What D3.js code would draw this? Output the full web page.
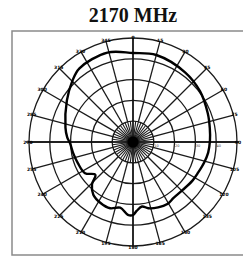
<!DOCTYPE html>
<html>
<head>
<meta charset="utf-8">
<script src="https://cdn.jsdelivr.net/npm/d3@7"></script>
<style>
  html, body { margin: 0; padding: 0; background: #fff; }
  svg { display: block; }
</style>
</head>
<body>
<div id="chart"></div>
<script>
// Radiation pattern, 2170 MHz
const title = "2170 MHz";

// pattern samples: angle in degrees (clockwise from top) and level (outer ring = 50)
const angles = [0, 15, 37, 53, 69, 80, 89, 98, 106, 115, 123, 134, 144, 151, 159, 167, 172, 177,
                180, 184, 191, 199, 208, 217, 224, 229, 237, 249, 260, 269, 274, 282, 302, 315, 324, 344];
const levels = [42.8, 43.3, 41.8, 40.4, 38.5, 37.5, 37.0, 36.5, 35.6, 34.6, 34.1, 33.2, 33.2, 34.1, 33.7, 32.7, 31.3, 33.2,
                35.1, 35.1, 32.2, 33.7, 33.2, 31.7, 28.4, 24.0, 27.5, 28.4, 29.3, 30.3, 31.7, 33.2, 37.5, 41.3, 43.8, 44.7];

// grid
const ringValues = [10, 20, 30, 40, 50];
const ringLabels = ["-10", "-20", "-30", "-40"];
const angleTicks = d3.range(0, 360, 15);

const W = 243, H = 256;
const cx = 133, cy = 142, R = 104;

const svg = d3.select("#chart").append("svg")
  .attr("width", W)
  .attr("height", H);

// frame
svg.append("rect")
  .attr("x", 12).attr("y", 31)
  .attr("width", 250).attr("height", 224)
  .attr("fill", "none")
  .attr("stroke", "#8a8a8a")
  .attr("stroke-width", 1.5);

// title
svg.append("text")
  .attr("x", cx).attr("y", 22)
  .attr("text-anchor", "middle")
  .attr("font-family", "Liberation Serif, serif")
  .attr("font-weight", "bold")
  .attr("font-size", 20)
  .attr("fill", "#111")
  .text(title);

const r = d3.scaleLinear().domain([0, 50]).range([0, R]);

const g = svg.append("g").attr("transform", `translate(${cx},${cy})`);

// rings
g.selectAll("circle.ring")
  .data(ringValues)
  .join("circle")
  .attr("class", "ring")
  .attr("r", d => r(d))
  .attr("fill", "none")
  .attr("stroke", "#1a1a1a")
  .attr("stroke-width", 1.3);

// dense spokes near the centre
g.selectAll("line.inner")
  .data(d3.range(0, 360, 7.5))
  .join("line")
  .attr("class", "inner")
  .attr("x1", 0).attr("y1", 0)
  .attr("x2", d => r(10) * Math.sin(d * Math.PI / 180))
  .attr("y2", d => -r(10) * Math.cos(d * Math.PI / 180))
  .attr("stroke", "#1a1a1a")
  .attr("stroke-width", 1.1);

// spokes every 15 degrees
g.selectAll("line.spoke")
  .data(angleTicks)
  .join("line")
  .attr("class", "spoke")
  .attr("x1", d => r(10) * Math.sin(d * Math.PI / 180))
  .attr("y1", d => -r(10) * Math.cos(d * Math.PI / 180))
  .attr("x2", d => r(50) * Math.sin(d * Math.PI / 180))
  .attr("y2", d => -r(50) * Math.cos(d * Math.PI / 180))
  .attr("stroke", "#1a1a1a")
  .attr("stroke-width", 1.3);

// main axes
g.append("line")
  .attr("x1", -r(50) - 3).attr("x2", r(50) + 2)
  .attr("y1", 0).attr("y2", 0)
  .attr("stroke", "#111").attr("stroke-width", 1.4);
g.append("line")
  .attr("x1", 0).attr("x2", 0)
  .attr("y1", -r(50)).attr("y2", r(50))
  .attr("stroke", "#111").attr("stroke-width", 1.4);

// centre blob
g.append("circle").attr("r", 5.5).attr("fill", "#000");

// angle labels (tiny, as in the scan)
g.selectAll("text.ang")
  .data(angleTicks)
  .join("text")
  .attr("class", "ang")
  .attr("x", d => (r(50) + 1) * Math.sin(d * Math.PI / 180))
  .attr("y", d => -(r(50) + 1) * Math.cos(d * Math.PI / 180) + 1.5)
  .attr("text-anchor", "middle")
  .attr("font-family", "DejaVu Sans, sans-serif")
  .attr("font-weight", "bold")
  .attr("font-size", 4.5)
  .attr("fill", "#000")
  .text(d => d);

// ring labels along the right axis
g.selectAll("text.lvl")
  .data(ringLabels)
  .join("text")
  .attr("class", "lvl")
  .attr("x", (d, i) => r(ringValues[i]) + 2)
  .attr("y", 5)
  .attr("text-anchor", "middle")
  .attr("font-family", "DejaVu Sans, sans-serif")
  .attr("font-size", 3.5)
  .attr("fill", "#333")
  .text(d => d);

// pattern
const pts = angles.map((a, i) => [a * Math.PI / 180, r(levels[i])]);
const line = d3.lineRadial().curve(d3.curveCatmullRomClosed.alpha(0.5));
g.append("path")
  .attr("d", line(pts))
  .attr("fill", "none")
  .attr("stroke", "#000")
  .attr("stroke-width", 2.4)
  .attr("stroke-linejoin", "round");
</script>
</body>
</html>
